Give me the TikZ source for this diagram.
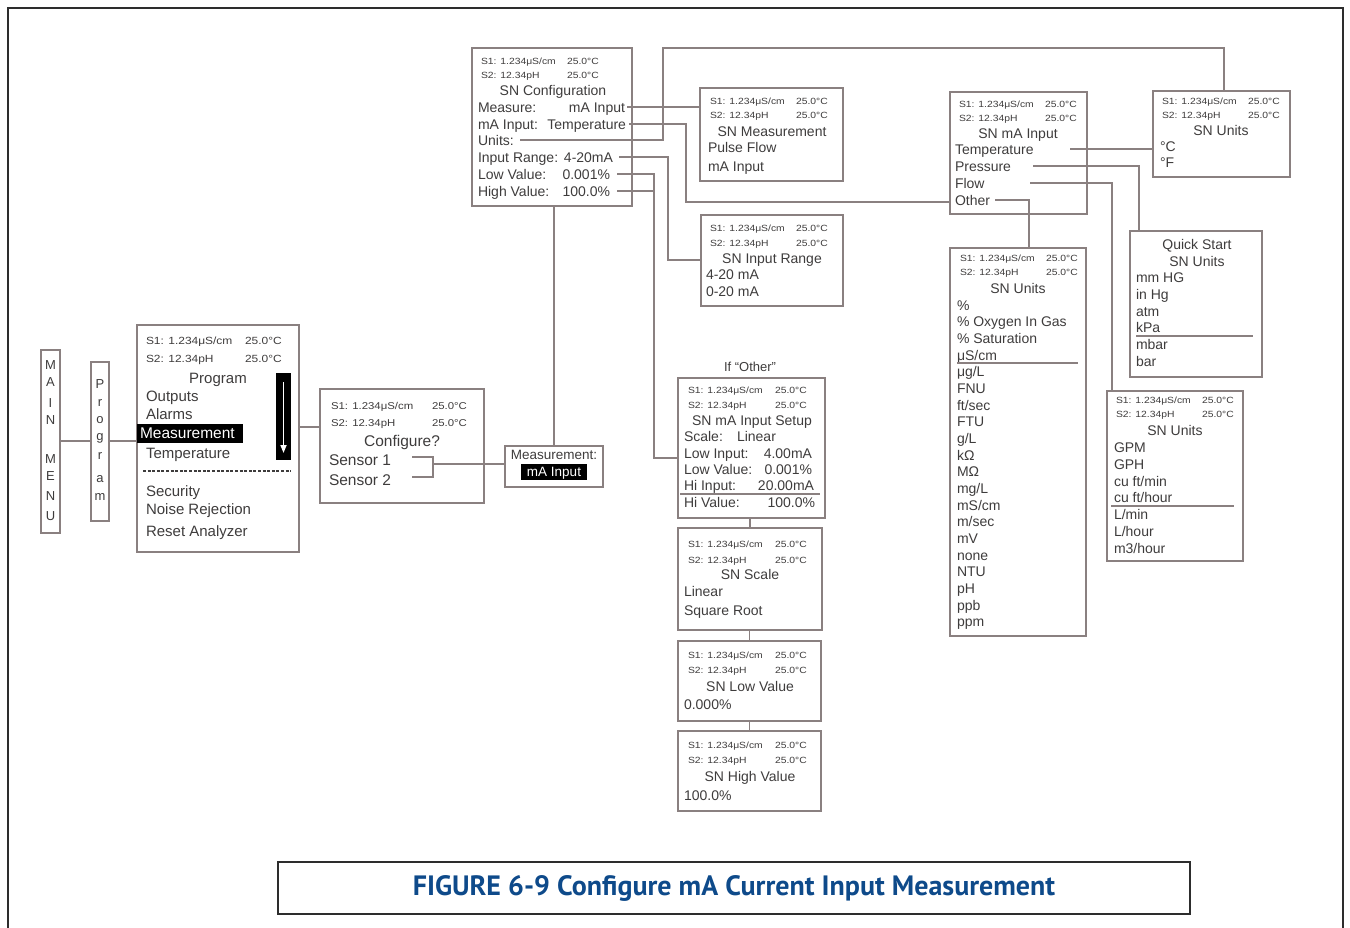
\documentclass[tikz,border=0pt]{standalone}
\usepackage{fontspec}
\setmainfont{Liberation Sans}
\newfontfamily\smf[FakeStretch=1.15]{Liberation Sans}
\newfontfamily\capf{PT Sans}
\usetikzlibrary{arrows.meta}
\definecolor{boxcol}{RGB}{138,128,128}
\definecolor{txt}{RGB}{62,60,60}
\definecolor{capblue}{RGB}{14,74,138}
\definecolor{framecol}{RGB}{45,45,45}
\newcounter{tn}
\newcommand\xtl[4][14]{\stepcounter{tn}\node[lbl,font={\fontsize{#1}{#1}\selectfont},anchor=base west] (t\arabic{tn}) at (#2,{#3+0.36*#1}) {#4};}
\newcommand\xtc[4][14]{\stepcounter{tn}\node[lbl,font={\fontsize{#1}{#1}\selectfont},anchor=base] (t\arabic{tn}) at (#2,{#3+0.36*#1}) {#4};}
\newcommand\xtr[4][14]{\stepcounter{tn}\node[lbl,font={\fontsize{#1}{#1}\selectfont},anchor=base east] (t\arabic{tn}) at (#2,{#3+0.36*#1}) {#4};}
\newcommand\xhd[5][9]{%
 \stepcounter{tn}\node[lbl,font={\smf\fontsize{#1}{#1}\selectfont},anchor=base west] (t\arabic{tn}) at (#2,{#4+0.36*#1}) {S1: 1.234μS/cm};
 \stepcounter{tn}\node[lbl,font={\smf\fontsize{#1}{#1}\selectfont},anchor=base west] (t\arabic{tn}) at (#3,{#4+0.36*#1}) {25.0°C};
 \stepcounter{tn}\node[lbl,font={\smf\fontsize{#1}{#1}\selectfont},anchor=base west] (t\arabic{tn}) at (#2,{#5+0.36*#1}) {S2: 12.34pH};
 \stepcounter{tn}\node[lbl,font={\smf\fontsize{#1}{#1}\selectfont},anchor=base west] (t\arabic{tn}) at (#3,{#5+0.36*#1}) {25.0°C};}
\newcommand\xbx[5]{\node[box,minimum width={(#4-#2)*1pt},minimum height={(#5-#3)*1pt}] (#1) at ({(#2+#4)/2},{(#3+#5)/2}) {};}
\begin{document}
\begin{tikzpicture}[x=1pt,y=-1pt,
  lbl/.style={inner sep=0pt,outer sep=0pt,text=txt},
  box/.style={draw=boxcol,line width=1.4pt,inner sep=0pt,outer sep=0pt,fill=none},
  conn/.style={draw=boxcol,line width=1.4pt},
  sep/.style={draw=boxcol,line width=1.2pt}]
\useasboundingbox (0,0) rectangle (1350,928);
% outer frame
\draw[framecol,line width=1.8pt] (8,930) -- (8,8) -- (1343,8) -- (1343,930);
% boxes
\xbx{mainmenu}{41}{350}{60}{533}
\xbx{progv}{91}{362}{109}{521}
\xbx{prog}{137}{325}{299}{552}
\xbx{conf}{320}{389}{484}{503}
\xbx{measin}{505}{446}{603}{487}
\xbx{cfg}{472}{48}{632}{206}
\xbx{snm}{700}{88}{843}{181}
\xbx{sir}{701}{215}{843}{306}
\xbx{sma}{950}{92}{1087}{214}
\xbx{sut}{1153}{91}{1290}{177}
\xbx{qs}{1130}{231}{1262}{377}
\xbx{suf}{1107}{391}{1243}{561}
\xbx{sub}{950}{248}{1086}{636}
\xbx{setup}{678}{378}{825}{518}
\xbx{scale}{678}{528}{822}{630}
\xbx{low}{678}{641}{821}{721}
\xbx{high}{678}{731}{821}{811}
% MAIN MENU
\foreach \l/\yy [count=\i] in {M/365,A/382,I/403,N/420,M/459,E/476,N/496,U/516}
  \node[lbl,font={\fontsize{13}{13}\selectfont},anchor=base] (mm\i) at (50.5,\yy+4.7) {\l};
\foreach \l/\yy [count=\i] in {P/384,r/402,o/419,g/436,r/455,a/478,m/496}
  \node[lbl,font={\fontsize{13}{13}\selectfont},anchor=base] (pv\i) at (100,\yy+4.7) {\l};
% Program box
\xhd[10.4]{146}{245}{341}{359}
\xtc[15]{218}{378}{Program}
\xtl[15]{146}{396}{Outputs}
\xtl[15]{146}{414}{Alarms}
\fill[black] (137,424) rectangle (243,443);
\node[lbl,text=white,font={\fontsize{15.5}{15.5}\selectfont},anchor=base west] (hlmeas) at (140,{433+0.36*15.5}) {Measurement};
\xtl[15]{146}{453}{Temperature}
\draw[txt,line width=1.1pt,dash pattern=on 3pt off 1.6pt] (143,471) -- (291,471);
\xtl[15]{146}{491}{Security}
\xtl[15]{146}{509}{Noise Rejection}
\xtl[15]{146}{531}{Reset Analyzer}
\fill[black] (276,373) rectangle (291,460);
\draw[white,line width=1.6pt,-{Triangle[width=6pt,length=8pt]}] (283.5,382) -- (283.5,453);
% Configure box
\xhd[9.9]{331}{432}{406}{423}
\xtc[15.5]{402}{441}{Configure?}
\xtl[15.5]{329}{460}{Sensor 1}
\xtl[15.5]{329}{480}{Sensor 2}
\draw[conn] (412,457) -- (433,457) -- (433,477) -- (412,477);
\coordinate (brk) at (433,464);
\draw[conn] (brk) -- (brk -| measin.west);
% Measurement mA input
\xtc[13.5]{554}{455}{Measurement:}
\fill[black] (521,464) rectangle (587,480);
\node[lbl,text=white,font={\fontsize{13.5}{13.5}\selectfont},anchor=base] (hlma) at (554,{472+0.36*13.5}) {mA Input};
\draw[conn] (measin.north) -- (measin.north |- cfg.south);
% left connectors
\coordinate (yl1) at (0,441);
\coordinate (yl2) at (0,427);
\draw[conn] (mainmenu.east |- yl1) -- (progv.west |- yl1);
\draw[conn] (progv.east |- yl1) -- (prog.west |- yl1);
\draw[conn] (prog.east |- yl2) -- (conf.west |- yl2);
% SN Configuration
\xhd{481}{567}{61}{75}
\xtc{553}{90}{SN Configuration}
\xtl{478}{107}{Measure:} \xtr{625}{107}{mA Input}
\xtl{478}{124}{mA Input:} \xtr{626}{124}{Temperature}
\xtl{478}{140}{Units:}
\xtl{478}{157}{Input Range:} \xtr{613}{157}{4-20mA}
\xtl{478}{174}{Low Value:} \xtr{610}{174}{0.001\%}
\xtl{478}{191}{High Value:} \xtr{610}{191}{100.0\%}
% connectors from SN Configuration
\coordinate (cm) at (627,107);
\draw[conn] (cm) -- (cm -| snm.west);
\coordinate (ci) at (629,124);
\coordinate (ci2) at (686,202);
\draw[conn] (ci) -| (ci2) -- (ci2 -| sma.west);
\coordinate (cu) at (520,140);
\coordinate (cu2) at (663,48);
\coordinate (cu3) at (1224,48);
\draw[conn] (cu) -| (cu2) -- (cu3) -- (cu3 |- sut.north);
\coordinate (cr) at (619,157);
\coordinate (cr2) at (668,260);
\draw[conn] (cr) -| (cr2) -- (cr2 -| sir.west);
\coordinate (cl) at (617,174);
\coordinate (cl2) at (654,458);
\coordinate (chv) at (617,191);
\draw[conn] (cl) -| (cl2) -- (cl2 -| setup.west);
\draw[conn] (chv) -- (chv -| cl2);
% SN Measurement
\xhd{710}{796}{101}{115}
\xtc{772}{131}{SN Measurement}
\xtl{708}{147}{Pulse Flow}
\xtl{708}{166}{mA Input}
% SN Input Range
\xhd{710}{796}{228}{243}
\xtc{772}{258}{SN Input Range}
\xtl{706}{274}{4-20 mA}
\xtl{706}{291}{0-20 mA}
% SN mA Input
\xhd{959}{1045}{104}{118}
\xtc{1018}{133}{SN mA Input}
\xtl{955}{149}{Temperature}
\xtl{955}{166}{Pressure}
\xtl{955}{183}{Flow}
\xtl{955}{200}{Other}
\coordinate (mt) at (1070,149);
\draw[conn] (mt) -- (mt -| sut.west);
\coordinate (mp) at (1033,166);
\coordinate (mp2) at (1139,166);
\draw[conn] (mp) -- (mp2) -- (mp2 |- qs.north);
\coordinate (mf) at (1030,183);
\coordinate (mf2) at (1112,183);
\draw[conn] (mf) -- (mf2) -- (mf2 |- suf.north);
\coordinate (mo) at (995,200);
\coordinate (mo2) at (1029,200);
\draw[conn] (mo) -- (mo2) -- (mo2 |- sub.north);
% SN Units (temperature)
\xhd{1162}{1248}{101}{115}
\xtc{1221}{130}{SN Units}
\xtl{1160}{146}{°C}
\xtl{1160}{162}{°F}
% Quick Start
\xtc{1197}{244}{Quick Start}
\xtc{1197}{261}{SN Units}
\xtl{1136}{277}{mm HG}
\xtl{1136}{294}{in Hg}
\xtl{1136}{311}{atm}
\xtl{1136}{327}{kPa}
\draw[sep] (1136,336) -- (1253,336);
\xtl{1136}{344}{mbar}
\xtl{1136}{361}{bar}
% SN Units (flow)
\xhd{1116}{1202}{400}{414}
\xtc{1175}{430}{SN Units}
\xtl{1114}{447}{GPM}
\xtl{1114}{464}{GPH}
\xtl{1114}{481}{cu ft/min}
\xtl{1114}{497}{cu ft/hour}
\draw[sep] (1111,506) -- (1234,506);
\xtl{1114}{514}{L/min}
\xtl{1114}{531}{L/hour}
\xtl{1114}{548}{m3/hour}
% SN Units (other)
\xhd{960}{1046}{258}{272}
\xtc{1018}{288}{SN Units}
\foreach \t [count=\i from 0] in {\%,\% Oxygen In Gas,\% Saturation,μS/cm,μg/L,FNU,ft/sec,FTU,g/L,kΩ,MΩ,mg/L,mS/cm,m/sec,mV,none,NTU,pH,ppb,ppm}
  \node[lbl,font={\fontsize{14}{14}\selectfont},anchor=base west] (u\i) at (957,{305+16.68*\i+5.04}) {\t};
\draw[sep] (957,363) -- (1078,363);
% If Other
\xtc[13]{750}{367}{If “Other”}
% SN mA Input Setup
\xhd{688}{775}{390}{405}
\xtc{752}{420}{SN mA Input Setup}
\xtl{684}{436}{Scale:} \xtl{737}{436}{Linear}
\xtl{684}{453}{Low Input:} \xtr{812}{453}{4.00mA}
\xtl{684}{469}{Low Value:} \xtr{812}{469}{0.001\%}
\xtl{684}{485}{Hi Input:} \xtr{814}{485}{20.00mA}
\draw[sep] (680,494) -- (820,494);
\xtl{684}{502}{Hi Value:} \xtr{815}{502}{100.0\%}
% SN Scale
\xhd{688}{775}{544}{560}
\xtc{750}{574}{SN Scale}
\xtl{684}{591}{Linear}
\xtl{684}{610}{Square Root}
% SN Low Value
\xhd{688}{775}{655}{670}
\xtc{750}{686}{SN Low Value}
\xtl{684}{704}{0.000\%}
% SN High Value
\xhd{688}{775}{745}{760}
\xtc{750}{776}{SN High Value}
\xtl{684}{795}{100.0\%}
% vertical chain
\draw[conn] (scale.north) -- (scale.north |- setup.south);
\draw[conn] (low.north) -- (low.north |- scale.south);
\draw[conn] (high.north) -- (high.north |- low.south);
% caption
\node[draw=framecol,line width=1.2pt,minimum width=912pt,minimum height=52pt,inner sep=0pt,
  font={\capf\bfseries\fontsize{28}{28}\selectfont},text=capblue] (caption) at (734,888)
  {FIGURE 6-9 Configure mA Current Input Measurement};
\end{tikzpicture}
\end{document}
